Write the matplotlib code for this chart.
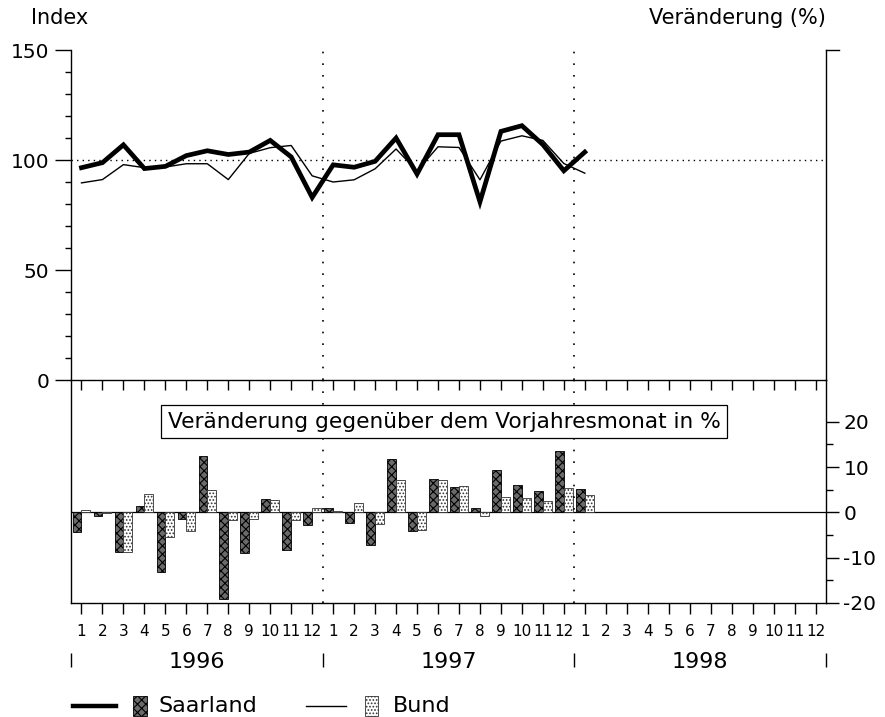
import matplotlib
matplotlib.use("Agg")
import matplotlib.pyplot as plt
import matplotlib.transforms as mtrans
from matplotlib.patches import Rectangle
from matplotlib.lines import Line2D
import numpy as np

plt.rcParams['font.family'] = ['DejaVu Sans']
plt.rcParams['hatch.linewidth'] = 0.8
plt.rcParams['axes.unicode_minus'] = False

# monthly values Jan 1996 .. Jan 1998
saar_index = [96.5, 98.8, 106.9, 96.1, 97.1, 102.0, 104.2, 102.5, 103.6, 108.9, 101.4, 83.0,
              97.8, 96.7, 99.4, 110.0, 93.6, 111.5, 111.5, 81.0, 113.0, 115.6, 107.0, 95.1,
              103.6]
bund_index = [89.6, 91.1, 97.9, 96.5, 96.8, 98.3, 98.3, 91.1, 103.0, 105.6, 106.6, 92.8,
              90.0, 91.0, 96.0, 105.0, 95.0, 106.0, 105.7, 91.0, 108.6, 111.0, 108.9, 98.4,
              94.0]
saar_change = [-4.4, -0.8, -8.7, 1.3, -13.1, -1.5, 12.4, -19.1, -9.0, 2.9, -8.4, -2.8,
               0.9, -2.4, -7.3, 11.8, -4.2, 7.4, 5.6, 1.0, 9.3, 6.0, 4.7, 13.6, 5.1]
bund_change = [0.6, -0.2, -8.8, 4.0, -5.4, -4.2, 4.9, -1.6, -1.5, 2.8, -1.6, 1.0,
               0.4, 2.0, -2.5, 7.2, -3.8, 7.1, 5.9, -0.9, 3.3, 3.1, 2.5, 5.3, 3.8]
month_labels = [str(m) for m in range(1, 13)] * 3
years = ['1996', '1997', '1998']

saar_fc = '#6a6a6a'

fig = plt.figure(figsize=(8.85, 7.17), dpi=100)
L, W = 71 / 885, 755 / 885
ax1 = fig.add_axes([L, 1 - 380 / 717, W, 330 / 717])
ax2 = fig.add_axes([L, 1 - 603 / 717, W, 223 / 717])
ax2.patch.set_visible(False)

x = np.arange(len(saar_index))

# top panel: index
ax1.plot(x, bund_index, color='k', lw=1.0)
ax1.plot(x, saar_index, color='k', lw=3.4, solid_joinstyle='miter')
ax1.axhline(100, color='k', lw=1, ls=(0, (1, 3)))
ax1.set_xlim(-0.5, 35.5)
ax1.set_ylim(0, 150)
ax1.spines['top'].set_visible(False)
for s in ax1.spines.values():
    s.set_linewidth(1)
ax1.set_yticks([0, 50, 100, 150])
ax1.set_yticks(np.arange(0, 151, 10), minor=True)
ax1.tick_params(axis='y', which='major', direction='out', length=11.5, width=1,
                labelsize=14.5, pad=4)
ax1.tick_params(axis='y', which='minor', direction='out', length=4, width=1)
ax1.set_xticks(np.arange(36))
ax1.tick_params(axis='x', direction='out', length=7, width=1, labelbottom=False)
ax1.plot([1, 1.017], [1, 1], transform=ax1.transAxes, clip_on=False, color='k', lw=1)

# bottom panel: change vs. previous year
ax2.axhline(0, color='k', lw=0.9, zorder=1)
ax2.bar(x - 0.21, saar_change, 0.42, facecolor=saar_fc, edgecolor='k',
        hatch='xxxx', lw=0.6, zorder=2)
ax2.bar(x + 0.21, bund_change, 0.42, facecolor='white', edgecolor='#333333',
        hatch='.....', lw=0.6, zorder=2)
ax2.set_xlim(-0.5, 35.5)
ax2.set_ylim(-20, 29.2)
ax2.spines['top'].set_visible(False)
for s in ax2.spines.values():
    s.set_linewidth(1)
ax2.yaxis.tick_right()
ax2.set_yticks([-20, -10, 0, 10, 20])
ax2.set_yticks([-15, -5, 5, 15], minor=True)
ax2.tick_params(axis='y', which='major', direction='out', length=9.5, width=1,
                labelsize=14.5, pad=3)
ax2.tick_params(axis='y', which='minor', direction='out', length=5, width=1)
ax2.set_xticks(np.arange(36))
ax2.set_xticklabels(month_labels)
ax2.tick_params(axis='x', direction='out', length=8, width=1, labelsize=11, pad=7)

for ax in (ax1, ax2):
    for xs in (11.5, 23.5):
        ax.axvline(xs, color='k', lw=1.2, ls=(0, (1, 6)))

ax2.text(0.494, 20, 'Veränderung gegenüber dem Vorjahresmonat in %',
         transform=mtrans.blended_transform_factory(ax2.transAxes, ax2.transData),
         ha='center', va='center', fontsize=15.6,
         bbox=dict(boxstyle='square,pad=0.3', fc='white', ec='k', lw=0.9), zorder=5)

tr = mtrans.blended_transform_factory(ax2.transData, ax2.transAxes)
ax2.vlines([-0.5, 11.5, 23.5, 35.5], -0.224, -0.287, transform=tr, clip_on=False,
           color='k', lw=1)
for i, yr in enumerate(years):
    ax2.text(5.5 + 12 * i, -0.265, yr, transform=tr, ha='center', va='center',
             fontsize=16)

fig.text(31 / 885, 1 - 18 / 717, 'Index', ha='left', va='center', fontsize=15)
fig.text(826 / 885, 1 - 18 / 717, 'Veränderung (%)', ha='right', va='center',
         fontsize=15)

# legend
ly = 1 - 706 / 717
fig.add_artist(Line2D([73 / 885, 116 / 885], [ly, ly], color='k', lw=3.2))
fig.add_artist(Rectangle((133 / 885, 1 - 716 / 717), 14 / 885, 20 / 717,
                         facecolor=saar_fc, edgecolor='k', hatch='xxxx', lw=0.6))
fig.text(158 / 885, ly, 'Saarland', ha='left', va='center', fontsize=16)
fig.add_artist(Line2D([306 / 885, 346 / 885], [ly, ly], color='k', lw=1.0))
fig.add_artist(Rectangle((365 / 885, 1 - 716 / 717), 13 / 885, 20 / 717,
                         facecolor='white', edgecolor='#333333', hatch='.....', lw=0.6))
fig.text(393 / 885, ly, 'Bund', ha='left', va='center', fontsize=16)

fig.savefig('out.png', dpi=100)
